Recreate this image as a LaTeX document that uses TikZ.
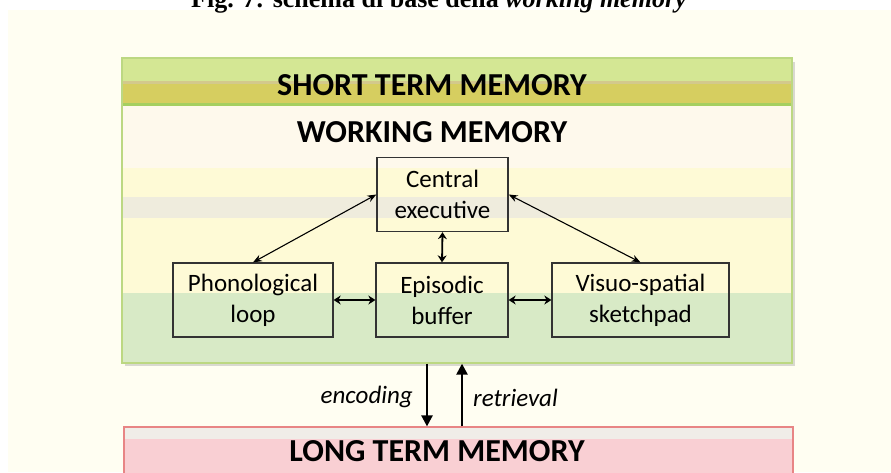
\documentclass[tikz,border=0pt]{standalone}
\usepackage{fontspec}
\setmainfont{Carlito}
\newfontfamily\capfont{Liberation Serif}
\usetikzlibrary{arrows.meta}
\definecolor{pagecream}{HTML}{FFFEF2}
\definecolor{bandgreen}{HTML}{D4E794}
\definecolor{bandtan}{HTML}{D3C98C}
\definecolor{bandolive}{HTML}{D6CE60}
\definecolor{bandline}{HTML}{A5CF60}
\definecolor{innercream}{HTML}{FEF9EC}
\definecolor{inneryellow}{HTML}{FEFAD6}
\definecolor{innergrey}{HTML}{EFECDD}
\definecolor{innergreen}{HTML}{D8EAC6}
\definecolor{stmborder}{HTML}{BCD882}
\definecolor{ltmborder}{HTML}{E88585}
\definecolor{ltmstrip}{HTML}{F0EDE8}
\definecolor{ltmpink}{HTML}{F9CFD3}
\definecolor{shadowgrey}{HTML}{D9D9D0}
\tikzset{
  titletext/.style={font=\bfseries\fontsize{32}{36}\selectfont, inner sep=0pt},
  compbox/.style={draw=black!80, line width=1.3pt, align=center, inner sep=0pt,
    minimum height=74, font=\fontsize{25}{31}\selectfont},
  thinarrow/.style={line width=1.1pt, {Stealth[length=9pt,width=7pt]}-{Stealth[length=9pt,width=7pt]}},
  shortarrow/.style={line width=1.8pt, {Stealth[length=7pt,width=9pt]}-{Stealth[length=7pt,width=9pt]}},
  bigarrow/.style={line width=2.4pt, -{Triangle[length=11pt,width=11pt]}},
  flowlabel/.style={font=\itshape\fontsize{25}{29}\selectfont, inner sep=0pt}
}
\begin{document}
\begin{tikzpicture}[x=1pt,y=-1pt]
\useasboundingbox (0,0) rectangle (891,472);
\clip (0,0) rectangle (891,472);
% page
\fill[white] (0,0) rectangle (891,472);
\fill[pagecream] (8,10) rectangle (891,472);
% caption (cut at top, as in the reference)
\node[anchor=base, inner sep=0pt, font=\capfont\bfseries\fontsize{26}{30}\selectfont] (cap) at (439,7)
  {Fig. 7: schema di base della \textit{working memory}};
% STM shadow
\fill[shadowgrey] (125,62) rectangle (795,366);
% STM bands
\fill[bandgreen] (122,58) rectangle (792,81);
\fill[bandtan] (122,81) rectangle (792,84);
\fill[bandolive] (122,84) rectangle (792,103);
\fill[bandline] (122,103) rectangle (792,106);
\fill[innercream] (122,106) rectangle (792,168);
\fill[inneryellow] (122,168) rectangle (792,293);
\fill[innergrey] (122,197) rectangle (792,218);
\fill[innergreen] (122,293) rectangle (792,363);
\node[draw=stmborder, line width=1.3pt, minimum width=670, minimum height=305, inner sep=0pt] (stm) at (457,210.5) {};
\node[titletext] (stmt) at (432,85) {SHORT TERM MEMORY};
\node[titletext] (wm) at (432,132) {WORKING MEMORY};
% components
\node[compbox, minimum width=131] (ce) at (442.5,194.5) {Central\\executive};
\node[compbox, minimum width=160] (phon) at (253,300) {Phonological\\loop};
\node[compbox, minimum width=132] (buf) at (442,300) {Episodic\\buffer};
\node[compbox, minimum width=177] (vis) at (640.5,300) {Visuo-spatial\\sketchpad};
\draw[thinarrow] (ce.west) -- (phon.north);
\draw[thinarrow] (ce.east) -- (vis.north);
\draw[shortarrow] (ce.south) -- (buf.north);
\draw[shortarrow] (phon.east) -- (buf.west);
\draw[shortarrow] (buf.east) -- (vis.west);
% LTM
\fill[ltmpink] (124,427) rectangle (793,490);
\fill[ltmstrip] (124,427) rectangle (793,439);
\node[draw=ltmborder, line width=1.2pt, minimum width=669, minimum height=63, inner sep=0pt] (ltm) at (458.5,458.5) {};
\node[titletext] (ltmt) at (437,451) {LONG TERM MEMORY};
% encoding / retrieval
\coordinate (ex) at (427,0);
\coordinate (rx) at (462,0);
\draw[bigarrow] (stm.south -| ex) -- (ltm.north -| ex);
\draw[bigarrow] (ltm.north -| rx) -- (stm.south -| rx);
\node[flowlabel, anchor=east] (enc) at (413,397) {encoding};
\node[flowlabel, anchor=west] (ret) at (473,398) {retrieval};
\end{tikzpicture}
\end{document}
